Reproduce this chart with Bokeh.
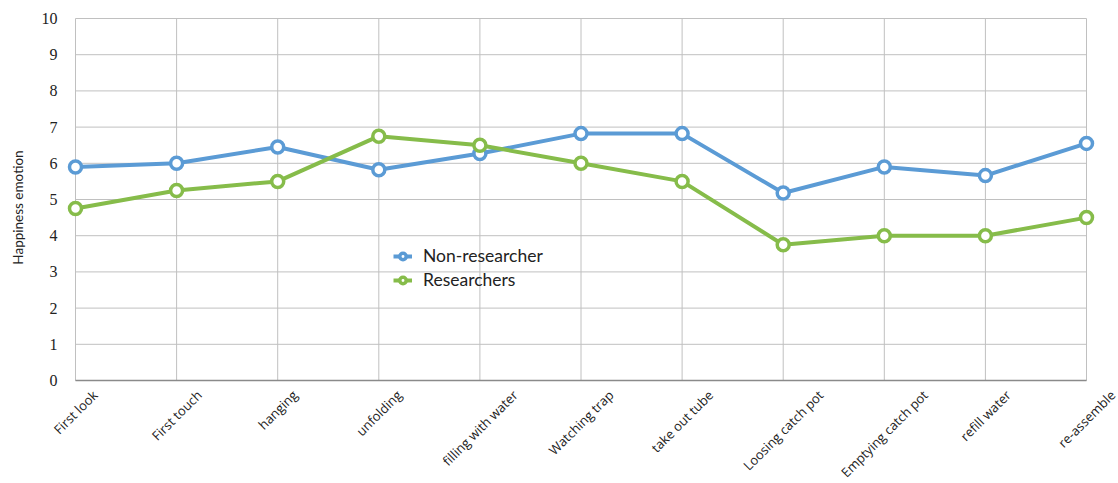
from bokeh.plotting import figure
from bokeh.models import (Range1d, Legend, LegendItem, Label, LabelSet,
                          ColumnDataSource)
from bokeh.embed import file_html
from bokeh.resources import INLINE
import glob
import math
import os
import subprocess

steps = ["First look", "First touch", "hanging", "unfolding", "filling with water",
         "Watching trap", "take out tube", "Loosing catch pot", "Emptying catch pot",
         "refill water", "re-assemble"]
non_researcher = [5.9, 6.0, 6.45, 5.82, 6.27, 6.82, 6.82, 5.18, 5.9, 5.66, 6.55]
researchers = [4.75, 5.25, 5.5, 6.75, 6.5, 6.0, 5.5, 3.75, 4.0, 4.0, 4.5]
y_ticks = list(range(0, 11))
y_title = "Happiness emotion"

BLUE = "#5b9bd5"
GREEN = "#86bc4a"
TEXT = "#222222"
GRID = "#c0c0c0"
CAT_FONT = "Open Sans"
CAT_SIZE = 13
NUM_FONT = "Lato"

# page geometry: the value area sits inside margins that hold the axis texts
WIDTH, HEIGHT = 1118, 483
LEFT, RIGHT, TOP, BOTTOM = 75, 32, 18, 103


def font_file(family):
    """Locate a TrueType file for a family so label widths can be measured."""
    try:
        out = subprocess.run(["fc-match", "-f", "%{file}", family],
                             capture_output=True, text=True, timeout=5).stdout.strip()
        if out and os.path.exists(out):
            return out
    except Exception:
        pass
    stem = family.replace(" ", "")
    for root in ["/usr/share/fonts", "/usr/local/share/fonts",
                 os.path.expanduser("~/.fonts"), os.path.expanduser("~/.local/share/fonts")]:
        hits = sorted(glob.glob(os.path.join(root, "**", stem + "*"), recursive=True))
        if hits:
            return hits[0]
    return None


def text_width(text, family, size):
    try:
        from PIL import ImageFont
        path = font_file(family)
        if path:
            return ImageFont.truetype(path, size).getlength(text)
    except Exception:
        pass
    return 0.52 * size * len(text)


xs = list(range(len(steps)))
x0, x1 = xs[0], xs[-1]
y0, y1 = y_ticks[0], y_ticks[-1]
px_x = (WIDTH - LEFT - RIGHT) / (x1 - x0)
px_y = (HEIGHT - TOP - BOTTOM) / (y1 - y0)

# one frame spanning the whole page; the margins are part of the data ranges
p = figure(width=WIDTH, height=HEIGHT, frame_width=WIDTH, frame_height=HEIGHT,
           output_backend="svg", toolbar_location=None,
           x_range=Range1d(x0 - LEFT / px_x, x1 + RIGHT / px_x),
           y_range=Range1d(y0 - BOTTOM / px_y, y1 + TOP / px_y),
           min_border=0)
p.outline_line_color = None
p.axis.visible = False
p.grid.visible = False

# grid lines across the value area
n, m = len(xs), len(y_ticks)
p.segment(x0=xs, y0=[y0] * n, x1=xs, y1=[y1] * n, line_color=GRID, line_width=1)
p.segment(x0=[x0] * m, y0=y_ticks, x1=[x1] * m, y1=y_ticks,
          line_color=GRID, line_width=1)
# baseline
p.segment(x0=[x0], y0=[y0], x1=[x1], y1=[y0], line_color="#8a8a8a", line_width=1.5)

# value scale labels
tick_src = ColumnDataSource(dict(x=[x0] * m, y=y_ticks, text=[str(t) for t in y_ticks]))
p.add_layout(LabelSet(x="x", y="y", text="text", source=tick_src, x_offset=-18,
                      text_align="right", text_baseline="middle",
                      text_font=NUM_FONT, text_font_size="16px", text_color=TEXT))

# value axis title
p.add_layout(Label(x=x0, y=(y0 + y1) / 2, x_offset=-58, y_offset=-8, text=y_title,
                   angle=math.pi / 2, text_align="center", text_baseline="middle",
                   text_font=NUM_FONT, text_font_size="13.5px", text_color=TEXT))

# rotated step names, centred horizontally under their grid line
angle = math.pi / 4
gap = 7
for x, s in zip(xs, steps):
    w = text_width(s, CAT_FONT, CAT_SIZE)
    half_extent = (w * math.sin(angle) + CAT_SIZE * 1.1 * math.cos(angle)) / 2
    p.add_layout(Label(x=x, y=y0, text=s, y_offset=-(gap + half_extent),
                       angle=angle, text_align="center", text_baseline="middle",
                       text_font=CAT_FONT, text_font_size=f"{CAT_SIZE}px",
                       text_color=TEXT))

l1 = p.line(xs, non_researcher, line_color=BLUE, line_width=4)
m1 = p.scatter(xs, non_researcher, size=12, marker="circle", fill_color="white",
               line_color=BLUE, line_width=3.5)
l2 = p.line(xs, researchers, line_color=GREEN, line_width=4)
m2 = p.scatter(xs, researchers, size=12, marker="circle", fill_color="white",
               line_color=GREEN, line_width=3.5)

legend = Legend(items=[LegendItem(label="Non-researcher", renderers=[l1, m1]),
                       LegendItem(label="Researchers", renderers=[l2, m2])],
                location=(LEFT + 314, BOTTOM + 86))
legend.background_fill_alpha = 0
legend.border_line_alpha = 0
legend.label_text_font = NUM_FONT
legend.label_text_font_size = "17.5px"
legend.label_text_color = TEXT
legend.glyph_width = 19
legend.glyph_height = 16
legend.spacing = 3
legend.padding = 4
legend.label_standoff = 11
p.add_layout(legend, "center")

open("out.html", "w").write(file_html(p, INLINE))
